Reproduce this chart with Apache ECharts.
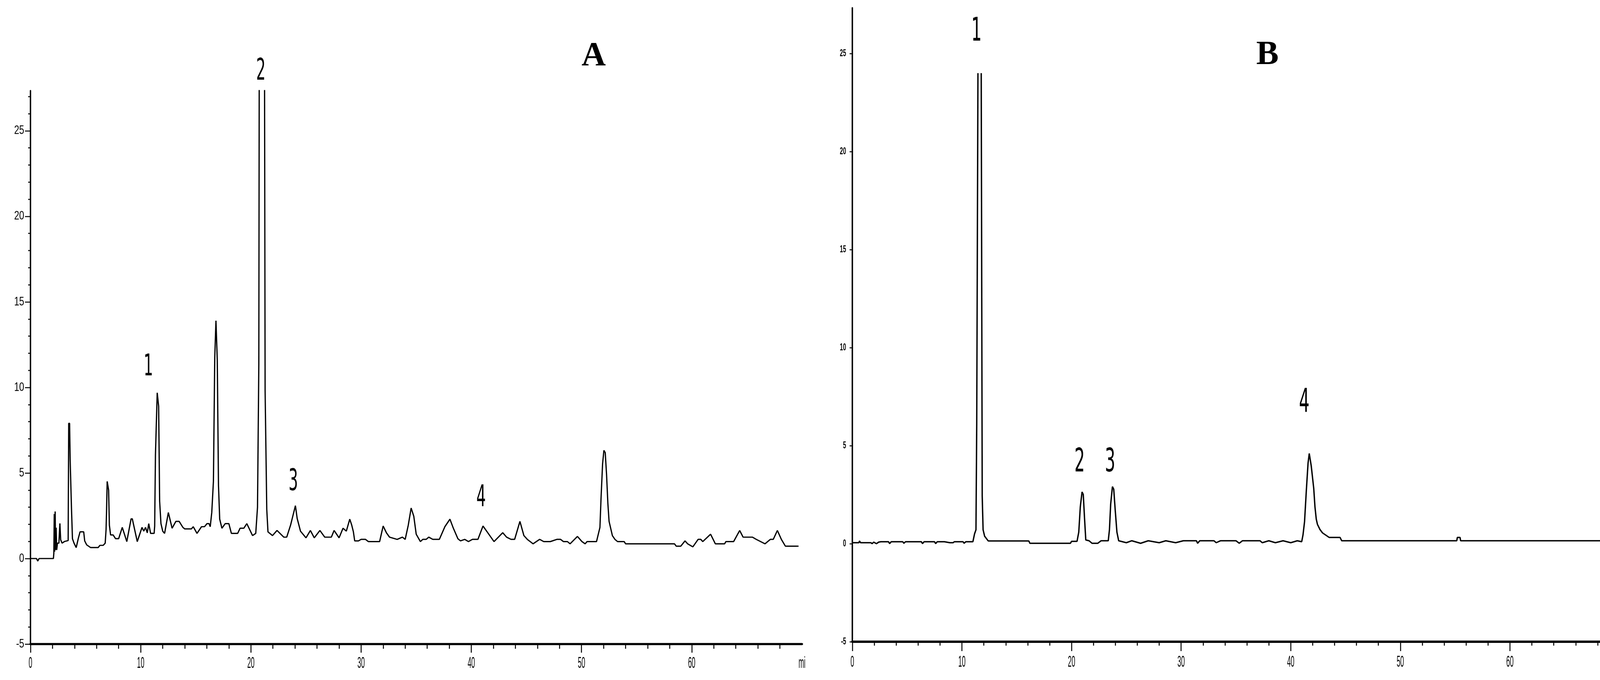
<!DOCTYPE html>
<html><head><meta charset="utf-8">
<script src="https://cdn.jsdelivr.net/npm/echarts@6/dist/echarts.min.js"></script>
<style>html,body{margin:0;padding:0;background:#fff}#c{width:4162px;height:1741px}</style>
</head><body><div id="c"></div>
<script>
// ---- data ----
const xTicks = [0, 10, 20, 30, 40, 50, 60, 70];
const xTickLabels = ['0', '10', '20', '30', '40', '50', '60', 'mi'];
const yTicks = [-5, 0, 5, 10, 15, 20, 25];
const yTickLabels = ['-5', '0', '5', '10', '15', '20', '25'];

// chromatogram A: [time (min), signal]
const seriesA = [
[0,0],[0.55,0],[0.66,-0.15],[0.78,0],[2.08,0],[2.12,0.3],[2.16,2.6],[2.19,0.4],[2.24,2.75],[2.28,0.5],[2.33,1.8],[2.38,0.5],[2.45,0.9],[2.58,0.9],[2.67,2.05],[2.74,1.1],[2.87,0.9],[3.1,1.0],[3.42,1.05],[3.47,7.9],[3.55,7.9],[3.6,5.8],[3.72,2.95],[3.81,1.16],[3.95,0.9],[4.15,0.64],[4.35,1.2],[4.5,1.56],[4.83,1.56],[4.92,1.03],[5.1,0.8],[5.46,0.64],[6.14,0.64],[6.3,0.77],[6.6,0.77],[6.78,0.9],[6.86,1.7],[6.9,2.69],[6.96,4.51],[7.09,4.0],[7.16,1.95],[7.27,1.38],[7.5,1.38],[7.72,1.16],[8.0,1.16],[8.33,1.82],[8.74,0.99],[9.13,2.32],[9.24,2.32],[9.69,0.99],[10.12,1.82],[10.28,1.6],[10.44,1.82],[10.6,1.5],[10.73,2.04],[10.9,1.47],[11.22,1.47],[11.27,1.9],[11.34,6.06],[11.5,9.69],[11.57,9.69],[11.63,8.9],[11.72,3.35],[11.84,2.04],[12.0,1.6],[12.17,1.47],[12.51,2.69],[12.85,1.77],[13.19,2.17],[13.49,2.17],[13.83,1.82],[14.0,1.73],[14.6,1.73],[14.77,1.86],[15.11,1.47],[15.52,1.86],[15.79,1.86],[16.02,2.04],[16.2,2.04],[16.31,1.86],[16.45,2.69],[16.6,4.51],[16.72,11.74],[16.83,13.9],[16.95,11.61],[17.06,4.27],[17.17,2.3],[17.37,1.77],[17.67,2.04],[18.0,2.04],[18.23,1.47],[18.8,1.47],[19.02,1.77],[19.36,1.77],[19.63,2.04],[20.15,1.34],[20.44,1.47],[20.6,3.0],[20.72,11.38],[20.77,35],[21.22,35],[21.29,9.82],[21.44,2.87],[21.55,1.56],[21.96,1.34],[22.37,1.64],[22.98,1.25],[23.25,1.25],[23.6,1.95],[24.04,3.09],[24.2,2.34],[24.5,1.6],[25.0,1.21],[25.4,1.64],[25.75,1.21],[26.26,1.64],[26.7,1.25],[27.3,1.25],[27.55,1.64],[28.0,1.21],[28.36,1.77],[28.66,1.6],[28.97,2.3],[29.15,1.95],[29.3,1.56],[29.42,1.03],[29.76,1.03],[30.0,1.12],[30.4,1.12],[30.66,0.99],[31.68,0.99],[32.0,1.9],[32.3,1.5],[32.58,1.25],[33.27,1.12],[33.75,1.25],[34.0,1.12],[34.28,1.95],[34.54,2.95],[34.78,2.47],[35.0,1.42],[35.38,0.99],[35.6,1.12],[35.9,1.12],[36.14,1.25],[36.5,1.12],[37.1,1.12],[37.6,1.86],[38.06,2.3],[38.37,1.77],[38.78,1.16],[39.02,1.03],[39.4,1.12],[39.74,0.99],[40.1,1.12],[40.6,1.12],[41.06,1.9],[41.49,1.51],[42.06,0.99],[42.85,1.51],[43.2,1.25],[43.6,1.12],[43.93,1.12],[44.41,2.17],[44.77,1.34],[45.08,1.12],[45.6,0.86],[46.2,1.12],[46.57,0.99],[47.17,0.99],[47.76,1.12],[48.1,1.12],[48.36,0.99],[48.72,0.99],[48.96,0.86],[49.63,1.29],[50.04,0.99],[50.33,0.86],[50.5,0.99],[51.36,0.99],[51.67,1.82],[51.77,3.52],[51.91,5.53],[52.03,6.32],[52.15,6.19],[52.27,4.92],[52.39,3.22],[52.5,2.17],[52.8,1.34],[53.03,1.12],[53.27,0.99],[53.87,0.99],[54.0,0.86],[58.43,0.86],[58.6,0.72],[59.0,0.72],[59.39,1.03],[59.63,0.86],[60.1,0.68],[60.58,1.12],[60.82,1.12],[61.0,0.99],[61.71,1.42],[62.14,0.86],[62.98,0.86],[63.1,0.99],[63.8,0.99],[64.35,1.64],[64.66,1.25],[65.5,1.25],[65.85,1.12],[66.65,0.86],[67.13,1.12],[67.4,1.12],[67.77,1.64],[68.13,1.12],[68.5,0.72],[69.69,0.72]
];

// chromatogram B: [time (min), signal]
const seriesB = [
[0,0.05],[0.6,0.05],[0.65,0.14],[0.75,0.05],[1.7,0.05],[1.8,0.0],[1.95,0.08],[2.2,0.0],[2.4,0.08],[2.6,0.1],[3.3,0.1],[3.4,0.0],[3.55,0.1],[4.6,0.1],[4.7,0.02],[4.85,0.1],[6.3,0.1],[6.4,0.0],[6.55,0.1],[7.5,0.1],[7.6,0.0],[7.75,0.1],[8.4,0.1],[8.9,0.05],[9.2,0.05],[9.3,0.1],[10.1,0.1],[10.2,0.02],[10.35,0.1],[11.0,0.1],[11.15,0.5],[11.28,0.71],[11.35,6.13],[11.42,6.13],[11.46,24.0],[11.6,null],[11.76,24.0],[11.85,2.42],[11.93,0.71],[12.07,0.38],[12.4,0.14],[16.1,0.14],[16.2,0.02],[19.9,0.02],[20.0,0.12],[20.5,0.12],[20.66,0.59],[20.8,1.88],[20.96,2.64],[21.07,2.51],[21.19,1.25],[21.3,0.19],[21.6,0.15],[21.87,0.02],[22.4,0.02],[22.7,0.15],[23.35,0.15],[23.46,0.72],[23.57,2.01],[23.73,2.91],[23.85,2.78],[23.98,1.75],[24.14,0.59],[24.3,0.15],[25.0,0.05],[25.5,0.15],[26.3,0.02],[27.0,0.15],[28.0,0.05],[28.6,0.15],[29.5,0.05],[30.2,0.15],[31.4,0.15],[31.5,0.02],[31.7,0.15],[33.0,0.15],[33.2,0.05],[33.6,0.15],[35.0,0.15],[35.3,0.02],[35.6,0.15],[37.2,0.15],[37.4,0.05],[38.0,0.15],[38.6,0.05],[39.3,0.15],[40.0,0.05],[40.6,0.15],[41.0,0.1],[41.12,0.45],[41.26,1.12],[41.42,2.68],[41.58,4.11],[41.69,4.6],[41.75,4.6],[41.87,3.97],[42.1,2.81],[42.21,1.88],[42.33,1.25],[42.44,0.98],[42.67,0.72],[42.9,0.55],[43.24,0.42],[43.5,0.32],[44.5,0.32],[44.65,0.15],[55.15,0.15],[55.2,0.32],[55.45,0.32],[55.5,0.15],[69.7,0.15]
];

// annotations [time, signal, text]
const peakLabelsA = [[10.70, 11.15, '1'], [20.91, 28.43, '2'], [23.85, 4.45, '3'], [40.89, 3.50, '4']];
const peakLabelsB = [[11.33, 26.1, '1'], [20.74, 4.12, '2'], [23.52, 4.12, '3'], [41.23, 7.17, '4']];
const panelA = [51.1, 29.35, 'A'];
const panelB = [37.88, 24.9, 'B'];

// ---- chart ----
const chart = echarts.init(document.getElementById('c'), null, {width: 4162, height: 1741});
const black = '#000';
const minorY = [];
for (let v = -4; v <= 27; v++) if (v % 5 !== 0) minorY.push(v);

function xAxisDef(grid, lineW, majLen, minLen) {
  return {
    type: 'value', gridIndex: grid, min: 0, max: 70, interval: 10,
    axisLine: {show: true, onZero: false, lineStyle: {color: black, width: lineW}},
    axisTick: {show: true, length: majLen, customValues: [0, 10, 20, 30, 40, 50, 60], lineStyle: {color: black, width: 2.5}},
    minorTick: {show: true, splitNumber: 5, length: minLen, lineStyle: {color: black, width: 2.5}},
    axisLabel: {show: false}, splitLine: {show: false}, minorSplitLine: {show: false}
  };
}

chart.setOption({
  animation: false,
  backgroundColor: '#fff',
  grid: [
    {left: 78, right: 2109, top: 232, bottom: 92, outerBoundsMode: 'none'},
    {left: 2182, right: 16, top: 20, bottom: 98, outerBoundsMode: 'none'}
  ],
  xAxis: [xAxisDef(0, 5.5, 22, 12), xAxisDef(1, 6, 24, 10)],
  yAxis: [
    {type: 'value', gridIndex: 0, position: 'left', min: -5, max: 27.35, interval: 5,
     axisLine: {show: true, onZero: false, lineStyle: {color: black, width: 3.5}},
     axisTick: {show: true, length: 14, customValues: yTicks, lineStyle: {color: black, width: 2.5}},
     axisLabel: {show: false}, splitLine: {show: false}},
    {type: 'value', gridIndex: 0, position: 'left', offset: 0, min: -5, max: 27.35, interval: 1,
     axisLine: {show: false},
     axisTick: {show: true, length: 6, customValues: minorY, lineStyle: {color: black, width: 2.5}},
     axisLabel: {show: false}, splitLine: {show: false}},
    {type: 'value', gridIndex: 1, position: 'left', min: -5, max: 27.33, interval: 5,
     axisLine: {show: true, onZero: false, lineStyle: {color: black, width: 3.7}},
     axisTick: {show: true, length: 7, customValues: yTicks, lineStyle: {color: black, width: 2.5}},
     axisLabel: {show: false}, splitLine: {show: false}}
  ],
  series: [
    {type: 'line', xAxisIndex: 0, yAxisIndex: 0, data: seriesA, showSymbol: false, symbol: 'none',
     connectNulls: false, clip: true, lineStyle: {color: black, width: 3.2}, silent: true},
    {type: 'line', xAxisIndex: 1, yAxisIndex: 2, data: seriesB, showSymbol: false, symbol: 'none',
     connectNulls: false, clip: true, lineStyle: {color: black, width: 3.5}, silent: true}
  ]
});

// ---- text placed through the axes' scales ----
const px = (xi, v) => chart.convertToPixel({xAxisIndex: xi}, v);
const py = (yi, v) => chart.convertToPixel({yAxisIndex: yi}, v);
const g = [];
function txt(x, y, t, o) {
  g.push({type: 'text', x: x, y: y, scaleX: o.sx || 1, silent: true,
    style: {text: t, fill: black, fontSize: o.fs, fontFamily: o.ff || 'Liberation Sans',
      fontWeight: o.fw || 'normal', align: o.align || 'center', verticalAlign: 'middle'}});
}
// x tick labels
[[0, 0, 50], [1, 2, 53]].forEach(([xi, yi, off]) => {
  const base = py(yi, -5);
  xTicks.forEach((v, i) => txt(px(xi, v), base + off, xTickLabels[i], {fs: 40, sx: 0.42}));
});
// y tick labels
yTicks.forEach((v, i) => {
  txt(px(0, 0) - 16, py(0, v), yTickLabels[i], {fs: 31, sx: 0.75, align: 'right'});
  txt(px(1, 0) - 16, py(2, v), yTickLabels[i], {fs: 26, sx: 0.55, align: 'right', fw: 'bold'});
});
// peak labels
peakLabelsA.forEach(p => txt(px(0, p[0]), py(0, p[1]), p[2], {fs: 76, sx: 0.5, ff: 'DejaVu Sans'}));
peakLabelsB.forEach(p => txt(px(1, p[0]), py(2, p[1]), p[2], {fs: 84, sx: 0.5, ff: 'DejaVu Sans'}));
// panel letters
txt(px(0, panelA[0]), py(0, panelA[1]), panelA[2], {fs: 86, ff: 'Liberation Serif', fw: 'bold'});
txt(px(1, panelB[0]), py(2, panelB[1]), panelB[2], {fs: 86, ff: 'Liberation Serif', fw: 'bold'});

chart.setOption({graphic: {elements: g}});
</script>
</body></html>
